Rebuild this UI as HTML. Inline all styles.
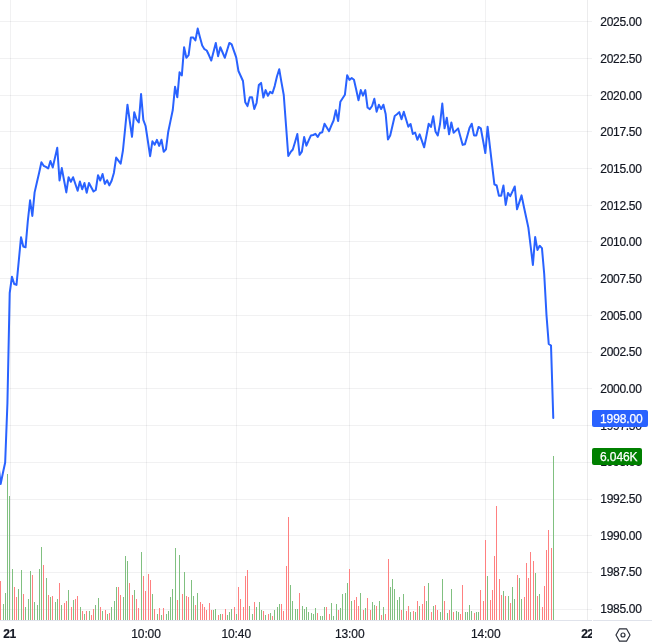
<!DOCTYPE html>
<html><head><meta charset="utf-8"><title>Chart</title>
<style>
html,body{margin:0;padding:0;background:#fff;}
body{width:652px;height:643px;position:relative;overflow:hidden;font-family:"Liberation Sans",sans-serif;color:#131722;-webkit-text-stroke:0.2px #131722;}
svg{position:absolute;left:0;top:0;}
.layer{position:absolute;left:0;top:0;width:652px;height:643px;will-change:transform;transform:translateZ(0);}
.pl{position:absolute;left:600.3px;height:15px;line-height:15px;font-size:12px;letter-spacing:-0.3px;white-space:nowrap;}
.taxis{position:absolute;left:0;top:621px;width:592px;height:22px;overflow:hidden;}
.tl{position:absolute;top:6px;width:60px;text-align:center;height:15px;line-height:15px;font-size:12px;letter-spacing:-0.1px;white-space:nowrap;}
.tl.b{font-weight:bold;letter-spacing:-0.6px;}
.box{position:absolute;left:592px;height:17px;border-radius:2px;color:#fff;font-size:12px;line-height:19px;letter-spacing:-0.1px;box-sizing:border-box;padding-left:8px;-webkit-text-stroke:0.25px #fff;white-space:nowrap;}
</style></head><body>
<svg width="652" height="643" viewBox="0 0 652 643">
<g shape-rendering="crispEdges">
<rect x="0" y="21" width="592" height="1" fill="rgba(42,46,57,0.065)"/><rect x="0" y="58" width="592" height="1" fill="rgba(42,46,57,0.065)"/><rect x="0" y="95" width="592" height="1" fill="rgba(42,46,57,0.065)"/><rect x="0" y="131" width="592" height="1" fill="rgba(42,46,57,0.065)"/><rect x="0" y="168" width="592" height="1" fill="rgba(42,46,57,0.065)"/><rect x="0" y="205" width="592" height="1" fill="rgba(42,46,57,0.065)"/><rect x="0" y="241" width="592" height="1" fill="rgba(42,46,57,0.065)"/><rect x="0" y="278" width="592" height="1" fill="rgba(42,46,57,0.065)"/><rect x="0" y="315" width="592" height="1" fill="rgba(42,46,57,0.065)"/><rect x="0" y="352" width="592" height="1" fill="rgba(42,46,57,0.065)"/><rect x="0" y="388" width="592" height="1" fill="rgba(42,46,57,0.065)"/><rect x="0" y="425" width="592" height="1" fill="rgba(42,46,57,0.065)"/><rect x="0" y="462" width="592" height="1" fill="rgba(42,46,57,0.065)"/><rect x="0" y="499" width="592" height="1" fill="rgba(42,46,57,0.065)"/><rect x="0" y="535" width="592" height="1" fill="rgba(42,46,57,0.065)"/><rect x="0" y="572" width="592" height="1" fill="rgba(42,46,57,0.065)"/><rect x="0" y="609" width="592" height="1" fill="rgba(42,46,57,0.065)"/>
<rect x="10" y="0" width="1" height="620" fill="rgba(42,46,57,0.065)"/><rect x="146" y="0" width="1" height="620" fill="rgba(42,46,57,0.065)"/><rect x="236" y="0" width="1" height="620" fill="rgba(42,46,57,0.065)"/><rect x="349" y="0" width="1" height="620" fill="rgba(42,46,57,0.065)"/><rect x="485" y="0" width="1" height="620" fill="rgba(42,46,57,0.065)"/>
<rect x="0" y="581" width="1" height="39" fill="#FF8080"/><rect x="3" y="604" width="1" height="16" fill="#80C080"/><rect x="5" y="593" width="1" height="27" fill="#80C080"/><rect x="7" y="474" width="1" height="146" fill="#80C080"/><rect x="9" y="496" width="1" height="124" fill="#80C080"/><rect x="12" y="569" width="1" height="51" fill="#80C080"/><rect x="14" y="587" width="1" height="33" fill="#FF8080"/><rect x="16" y="597" width="1" height="23" fill="#FF8080"/><rect x="18" y="589" width="1" height="31" fill="#80C080"/><rect x="21" y="570" width="1" height="50" fill="#80C080"/><rect x="23" y="594" width="1" height="26" fill="#FF8080"/><rect x="25" y="607" width="1" height="13" fill="#80C080"/><rect x="28" y="599" width="1" height="21" fill="#80C080"/><rect x="30" y="571" width="1" height="49" fill="#80C080"/><rect x="32" y="575" width="1" height="45" fill="#FF8080"/><rect x="34" y="602" width="1" height="18" fill="#80C080"/><rect x="37" y="605" width="1" height="15" fill="#80C080"/><rect x="39" y="569" width="1" height="51" fill="#80C080"/><rect x="41" y="547" width="1" height="73" fill="#80C080"/><rect x="43" y="565" width="1" height="55" fill="#FF8080"/><rect x="46" y="578" width="1" height="42" fill="#80C080"/><rect x="48" y="595" width="1" height="25" fill="#FF8080"/><rect x="50" y="597" width="1" height="23" fill="#80C080"/><rect x="52" y="596" width="1" height="24" fill="#FF8080"/><rect x="55" y="602" width="1" height="18" fill="#80C080"/><rect x="57" y="599" width="1" height="21" fill="#80C080"/><rect x="59" y="583" width="1" height="37" fill="#FF8080"/><rect x="61" y="605" width="1" height="15" fill="#80C080"/><rect x="64" y="603" width="1" height="17" fill="#FF8080"/><rect x="66" y="601" width="1" height="19" fill="#FF8080"/><rect x="68" y="590" width="1" height="30" fill="#80C080"/><rect x="71" y="607" width="1" height="13" fill="#FF8080"/><rect x="73" y="600" width="1" height="20" fill="#80C080"/><rect x="75" y="599" width="1" height="21" fill="#FF8080"/><rect x="77" y="596" width="1" height="24" fill="#FF8080"/><rect x="80" y="607" width="1" height="13" fill="#80C080"/><rect x="82" y="611" width="1" height="9" fill="#FF8080"/><rect x="84" y="614" width="1" height="6" fill="#80C080"/><rect x="86" y="611" width="1" height="9" fill="#FF8080"/><rect x="89" y="611" width="1" height="9" fill="#80C080"/><rect x="91" y="615" width="1" height="5" fill="#FF8080"/><rect x="93" y="609" width="1" height="11" fill="#FF8080"/><rect x="95" y="605" width="1" height="15" fill="#80C080"/><rect x="98" y="598" width="1" height="22" fill="#80C080"/><rect x="100" y="607" width="1" height="13" fill="#FF8080"/><rect x="102" y="611" width="1" height="9" fill="#80C080"/><rect x="105" y="610" width="1" height="10" fill="#FF8080"/><rect x="107" y="614" width="1" height="6" fill="#80C080"/><rect x="109" y="613" width="1" height="7" fill="#FF8080"/><rect x="111" y="607" width="1" height="13" fill="#80C080"/><rect x="114" y="601" width="1" height="19" fill="#80C080"/><rect x="116" y="587" width="1" height="33" fill="#80C080"/><rect x="118" y="587" width="1" height="33" fill="#FF8080"/><rect x="120" y="595" width="1" height="25" fill="#FF8080"/><rect x="123" y="597" width="1" height="23" fill="#80C080"/><rect x="125" y="556" width="1" height="64" fill="#80C080"/><rect x="127" y="561" width="1" height="59" fill="#80C080"/><rect x="129" y="583" width="1" height="37" fill="#FF8080"/><rect x="132" y="595" width="1" height="25" fill="#FF8080"/><rect x="134" y="590" width="1" height="30" fill="#80C080"/><rect x="136" y="599" width="1" height="21" fill="#FF8080"/><rect x="138" y="608" width="1" height="12" fill="#FF8080"/><rect x="141" y="552" width="1" height="68" fill="#80C080"/><rect x="143" y="576" width="1" height="44" fill="#FF8080"/><rect x="145" y="591" width="1" height="29" fill="#FF8080"/><rect x="148" y="574" width="1" height="46" fill="#FF8080"/><rect x="150" y="580" width="1" height="40" fill="#FF8080"/><rect x="152" y="594" width="1" height="26" fill="#80C080"/><rect x="154" y="609" width="1" height="11" fill="#FF8080"/><rect x="157" y="614" width="1" height="6" fill="#80C080"/><rect x="159" y="608" width="1" height="12" fill="#FF8080"/><rect x="161" y="615" width="1" height="5" fill="#80C080"/><rect x="163" y="608" width="1" height="12" fill="#FF8080"/><rect x="166" y="614" width="1" height="6" fill="#80C080"/><rect x="168" y="611" width="1" height="9" fill="#80C080"/><rect x="170" y="597" width="1" height="23" fill="#80C080"/><rect x="172" y="589" width="1" height="31" fill="#80C080"/><rect x="175" y="548" width="1" height="72" fill="#80C080"/><rect x="177" y="600" width="1" height="20" fill="#FF8080"/><rect x="179" y="555" width="1" height="65" fill="#80C080"/><rect x="182" y="594" width="1" height="26" fill="#FF8080"/><rect x="184" y="572" width="1" height="48" fill="#80C080"/><rect x="186" y="596" width="1" height="24" fill="#FF8080"/><rect x="188" y="597" width="1" height="23" fill="#FF8080"/><rect x="191" y="580" width="1" height="40" fill="#80C080"/><rect x="193" y="596" width="1" height="24" fill="#80C080"/><rect x="195" y="605" width="1" height="15" fill="#FF8080"/><rect x="197" y="593" width="1" height="27" fill="#80C080"/><rect x="200" y="602" width="1" height="18" fill="#FF8080"/><rect x="202" y="604" width="1" height="16" fill="#FF8080"/><rect x="204" y="607" width="1" height="13" fill="#FF8080"/><rect x="206" y="610" width="1" height="10" fill="#FF8080"/><rect x="209" y="603" width="1" height="17" fill="#FF8080"/><rect x="211" y="610" width="1" height="10" fill="#FF8080"/><rect x="213" y="610" width="1" height="10" fill="#80C080"/><rect x="215" y="609" width="1" height="11" fill="#80C080"/><rect x="218" y="615" width="1" height="5" fill="#FF8080"/><rect x="220" y="614" width="1" height="6" fill="#80C080"/><rect x="222" y="614" width="1" height="6" fill="#FF8080"/><rect x="225" y="609" width="1" height="11" fill="#FF8080"/><rect x="227" y="615" width="1" height="5" fill="#80C080"/><rect x="229" y="612" width="1" height="8" fill="#80C080"/><rect x="231" y="609" width="1" height="11" fill="#80C080"/><rect x="234" y="607" width="1" height="13" fill="#FF8080"/><rect x="236" y="614" width="1" height="6" fill="#80C080"/><rect x="238" y="587" width="1" height="33" fill="#FF8080"/><rect x="240" y="599" width="1" height="21" fill="#FF8080"/><rect x="243" y="607" width="1" height="13" fill="#FF8080"/><rect x="245" y="576" width="1" height="44" fill="#FF8080"/><rect x="247" y="570" width="1" height="50" fill="#FF8080"/><rect x="249" y="606" width="1" height="14" fill="#80C080"/><rect x="252" y="614" width="1" height="6" fill="#80C080"/><rect x="254" y="602" width="1" height="18" fill="#FF8080"/><rect x="256" y="607" width="1" height="13" fill="#80C080"/><rect x="259" y="602" width="1" height="18" fill="#80C080"/><rect x="261" y="610" width="1" height="10" fill="#80C080"/><rect x="263" y="611" width="1" height="9" fill="#FF8080"/><rect x="265" y="615" width="1" height="5" fill="#80C080"/><rect x="268" y="614" width="1" height="6" fill="#FF8080"/><rect x="270" y="613" width="1" height="7" fill="#80C080"/><rect x="272" y="616" width="1" height="4" fill="#FF8080"/><rect x="274" y="610" width="1" height="10" fill="#80C080"/><rect x="277" y="607" width="1" height="13" fill="#80C080"/><rect x="279" y="604" width="1" height="16" fill="#80C080"/><rect x="281" y="604" width="1" height="16" fill="#FF8080"/><rect x="283" y="611" width="1" height="9" fill="#FF8080"/><rect x="286" y="566" width="1" height="54" fill="#FF8080"/><rect x="288" y="517" width="1" height="103" fill="#FF8080"/><rect x="290" y="585" width="1" height="35" fill="#80C080"/><rect x="292" y="601" width="1" height="19" fill="#80C080"/><rect x="295" y="609" width="1" height="11" fill="#80C080"/><rect x="297" y="609" width="1" height="11" fill="#80C080"/><rect x="299" y="593" width="1" height="27" fill="#FF8080"/><rect x="302" y="606" width="1" height="14" fill="#80C080"/><rect x="304" y="609" width="1" height="11" fill="#80C080"/><rect x="306" y="607" width="1" height="13" fill="#80C080"/><rect x="308" y="612" width="1" height="8" fill="#80C080"/><rect x="311" y="613" width="1" height="7" fill="#80C080"/><rect x="313" y="614" width="1" height="6" fill="#80C080"/><rect x="315" y="608" width="1" height="12" fill="#80C080"/><rect x="317" y="613" width="1" height="7" fill="#FF8080"/><rect x="320" y="616" width="1" height="4" fill="#80C080"/><rect x="322" y="616" width="1" height="4" fill="#80C080"/><rect x="324" y="607" width="1" height="13" fill="#80C080"/><rect x="326" y="607" width="1" height="13" fill="#FF8080"/><rect x="329" y="614" width="1" height="6" fill="#FF8080"/><rect x="331" y="603" width="1" height="17" fill="#80C080"/><rect x="333" y="616" width="1" height="4" fill="#80C080"/><rect x="336" y="604" width="1" height="16" fill="#80C080"/><rect x="338" y="610" width="1" height="10" fill="#FF8080"/><rect x="340" y="608" width="1" height="12" fill="#80C080"/><rect x="342" y="594" width="1" height="26" fill="#80C080"/><rect x="345" y="593" width="1" height="27" fill="#80C080"/><rect x="347" y="583" width="1" height="37" fill="#80C080"/><rect x="349" y="569" width="1" height="51" fill="#FF8080"/><rect x="351" y="601" width="1" height="19" fill="#80C080"/><rect x="354" y="600" width="1" height="20" fill="#FF8080"/><rect x="356" y="597" width="1" height="23" fill="#FF8080"/><rect x="358" y="606" width="1" height="14" fill="#FF8080"/><rect x="360" y="593" width="1" height="27" fill="#80C080"/><rect x="363" y="610" width="1" height="10" fill="#FF8080"/><rect x="365" y="608" width="1" height="12" fill="#80C080"/><rect x="367" y="598" width="1" height="22" fill="#FF8080"/><rect x="370" y="610" width="1" height="10" fill="#FF8080"/><rect x="372" y="602" width="1" height="18" fill="#80C080"/><rect x="374" y="605" width="1" height="15" fill="#80C080"/><rect x="376" y="606" width="1" height="14" fill="#FF8080"/><rect x="379" y="601" width="1" height="19" fill="#80C080"/><rect x="381" y="615" width="1" height="5" fill="#FF8080"/><rect x="383" y="607" width="1" height="13" fill="#80C080"/><rect x="385" y="614" width="1" height="6" fill="#FF8080"/><rect x="388" y="559" width="1" height="61" fill="#FF8080"/><rect x="390" y="587" width="1" height="33" fill="#80C080"/><rect x="392" y="579" width="1" height="41" fill="#80C080"/><rect x="394" y="589" width="1" height="31" fill="#80C080"/><rect x="397" y="600" width="1" height="20" fill="#80C080"/><rect x="399" y="597" width="1" height="23" fill="#80C080"/><rect x="401" y="610" width="1" height="10" fill="#FF8080"/><rect x="403" y="594" width="1" height="26" fill="#80C080"/><rect x="406" y="611" width="1" height="9" fill="#FF8080"/><rect x="408" y="606" width="1" height="14" fill="#FF8080"/><rect x="410" y="612" width="1" height="8" fill="#80C080"/><rect x="413" y="611" width="1" height="9" fill="#FF8080"/><rect x="415" y="612" width="1" height="8" fill="#80C080"/><rect x="417" y="601" width="1" height="19" fill="#FF8080"/><rect x="419" y="606" width="1" height="14" fill="#80C080"/><rect x="422" y="604" width="1" height="16" fill="#FF8080"/><rect x="424" y="586" width="1" height="34" fill="#FF8080"/><rect x="426" y="601" width="1" height="19" fill="#80C080"/><rect x="428" y="583" width="1" height="37" fill="#80C080"/><rect x="431" y="612" width="1" height="8" fill="#FF8080"/><rect x="433" y="606" width="1" height="14" fill="#80C080"/><rect x="435" y="605" width="1" height="15" fill="#FF8080"/><rect x="437" y="610" width="1" height="10" fill="#FF8080"/><rect x="440" y="612" width="1" height="8" fill="#80C080"/><rect x="442" y="579" width="1" height="41" fill="#80C080"/><rect x="444" y="601" width="1" height="19" fill="#FF8080"/><rect x="447" y="613" width="1" height="7" fill="#80C080"/><rect x="449" y="610" width="1" height="10" fill="#FF8080"/><rect x="451" y="589" width="1" height="31" fill="#80C080"/><rect x="453" y="612" width="1" height="8" fill="#FF8080"/><rect x="456" y="611" width="1" height="9" fill="#80C080"/><rect x="458" y="612" width="1" height="8" fill="#80C080"/><rect x="460" y="614" width="1" height="6" fill="#FF8080"/><rect x="462" y="585" width="1" height="35" fill="#FF8080"/><rect x="465" y="612" width="1" height="8" fill="#80C080"/><rect x="467" y="612" width="1" height="8" fill="#80C080"/><rect x="469" y="605" width="1" height="15" fill="#80C080"/><rect x="471" y="611" width="1" height="9" fill="#80C080"/><rect x="474" y="613" width="1" height="7" fill="#FF8080"/><rect x="476" y="612" width="1" height="8" fill="#80C080"/><rect x="478" y="612" width="1" height="8" fill="#80C080"/><rect x="480" y="590" width="1" height="30" fill="#FF8080"/><rect x="483" y="601" width="1" height="19" fill="#FF8080"/><rect x="485" y="540" width="1" height="80" fill="#FF8080"/><rect x="487" y="576" width="1" height="44" fill="#80C080"/><rect x="490" y="600" width="1" height="20" fill="#FF8080"/><rect x="492" y="590" width="1" height="30" fill="#FF8080"/><rect x="494" y="556" width="1" height="64" fill="#FF8080"/><rect x="496" y="506" width="1" height="114" fill="#FF8080"/><rect x="499" y="579" width="1" height="41" fill="#FF8080"/><rect x="501" y="595" width="1" height="25" fill="#FF8080"/><rect x="503" y="591" width="1" height="29" fill="#80C080"/><rect x="505" y="596" width="1" height="24" fill="#FF8080"/><rect x="508" y="596" width="1" height="24" fill="#80C080"/><rect x="510" y="603" width="1" height="17" fill="#FF8080"/><rect x="512" y="587" width="1" height="33" fill="#80C080"/><rect x="514" y="599" width="1" height="21" fill="#80C080"/><rect x="517" y="575" width="1" height="45" fill="#FF8080"/><rect x="519" y="578" width="1" height="42" fill="#80C080"/><rect x="521" y="599" width="1" height="21" fill="#80C080"/><rect x="524" y="597" width="1" height="23" fill="#FF8080"/><rect x="526" y="563" width="1" height="57" fill="#FF8080"/><rect x="528" y="578" width="1" height="42" fill="#FF8080"/><rect x="530" y="552" width="1" height="68" fill="#FF8080"/><rect x="533" y="561" width="1" height="59" fill="#FF8080"/><rect x="535" y="573" width="1" height="47" fill="#80C080"/><rect x="537" y="596" width="1" height="24" fill="#FF8080"/><rect x="539" y="594" width="1" height="26" fill="#80C080"/><rect x="542" y="607" width="1" height="13" fill="#FF8080"/><rect x="544" y="586" width="1" height="34" fill="#FF8080"/><rect x="546" y="550" width="1" height="70" fill="#FF8080"/><rect x="548" y="530" width="1" height="90" fill="#FF8080"/><rect x="551" y="548" width="1" height="72" fill="#FF8080"/><rect x="553" y="456" width="1" height="164" fill="#80C080"/>
<rect x="587" y="0" width="1" height="620" fill="rgba(42,46,57,0.09)"/>
<rect x="0" y="620" width="592" height="1" fill="#E0E3EB"/>
<rect x="593" y="620" width="59" height="1" fill="#E0E3EB"/>
</g>
<polyline points="-1.96,462.0 0.64,484.0 2.90,473.0 5.17,462.5 7.43,403.0 9.70,293.0 11.96,276.7 14.23,284.0 16.49,284.9 18.76,261.0 21.02,237.2 23.29,246.5 25.55,247.3 27.82,221.0 30.08,200.3 32.34,215.9 34.61,192.4 36.87,182.5 39.14,172.7 41.40,162.3 43.67,165.8 45.93,166.9 48.20,168.5 50.46,161.0 52.73,167.5 54.99,157.6 57.26,147.7 59.52,180.5 61.79,168.1 64.05,180.2 66.32,192.4 68.58,177.2 70.85,181.8 73.11,177.2 75.38,184.0 77.64,190.7 79.91,181.5 82.17,189.3 84.44,183.0 86.70,192.7 88.97,183.0 91.23,187.3 93.50,191.5 95.76,190.0 98.03,175.2 100.29,180.5 102.56,174.0 104.82,183.9 107.09,180.2 109.35,185.4 111.62,180.7 113.88,173.0 116.15,157.6 118.41,160.7 120.68,163.7 122.94,150.5 125.21,127.8 127.47,104.7 129.74,120.8 132.00,136.8 134.27,112.2 136.53,119.5 138.80,122.5 141.06,94.1 143.33,119.8 145.59,126.0 147.86,141.0 150.12,156.2 152.39,141.3 154.65,144.7 156.91,139.9 159.18,145.9 161.44,139.8 163.71,151.8 165.97,149.4 168.24,131.7 170.50,120.9 172.77,110.0 175.03,86.8 177.30,97.3 179.56,72.2 181.83,75.5 184.09,47.2 186.36,57.8 188.62,55.2 190.89,37.4 193.15,37.4 195.42,40.4 197.68,28.6 199.95,37.3 202.21,45.5 204.48,49.2 206.74,50.5 209.01,55.3 211.27,60.5 213.54,51.7 215.80,42.9 218.07,56.2 220.33,47.2 222.60,52.5 224.86,57.8 227.13,50.3 229.39,42.9 231.66,44.4 233.92,50.9 236.19,57.3 238.45,71.0 240.72,76.0 242.98,81.0 245.25,102.3 247.51,106.1 249.78,97.2 252.04,97.2 254.31,109.0 256.57,103.0 258.84,85.0 261.10,82.9 263.37,97.5 265.63,90.1 267.90,95.8 270.16,91.8 272.43,93.3 274.69,86.1 276.95,76.5 279.22,69.2 281.48,82.4 283.75,95.0 286.01,125.3 288.28,156.0 290.54,152.2 292.81,149.5 295.07,142.0 297.34,134.0 299.60,154.8 301.87,151.6 304.13,137.1 306.40,145.7 308.66,140.3 310.93,135.4 313.19,135.0 315.46,133.8 317.72,137.0 319.99,133.0 322.25,132.3 324.52,123.8 326.78,127.5 329.05,131.2 331.31,125.6 333.58,120.5 335.84,110.3 338.11,121.1 340.37,101.7 342.64,98.3 344.90,94.8 347.17,75.2 349.43,79.9 351.70,78.0 353.96,79.7 356.23,89.8 358.49,100.3 360.76,90.1 363.02,95.6 365.29,90.1 367.55,107.5 369.82,109.2 372.08,106.0 374.35,98.8 376.61,111.7 378.88,104.7 381.14,109.0 383.41,104.7 385.67,114.0 387.94,139.5 390.20,135.5 392.47,125.8 394.73,116.0 396.99,114.3 399.26,112.1 401.52,119.2 403.79,111.7 406.05,119.2 408.32,126.7 410.58,124.0 412.85,134.0 415.11,132.5 417.38,139.8 419.64,134.3 421.91,140.8 424.17,147.3 426.44,135.6 428.70,123.8 430.97,127.0 433.23,116.3 435.50,131.6 437.76,135.5 440.03,124.0 442.29,103.5 444.56,128.3 446.82,117.8 449.09,134.3 451.35,122.4 453.62,132.8 455.88,130.6 458.15,128.4 460.41,136.7 462.68,144.9 464.94,144.3 467.21,136.2 469.47,128.0 471.74,123.7 474.00,135.4 476.27,135.4 478.53,126.9 480.80,128.3 483.06,140.5 485.33,153.1 487.59,126.7 489.86,146.2 492.12,165.3 494.39,184.3 496.65,185.5 498.92,195.7 501.18,195.7 503.45,185.5 505.71,204.9 507.98,192.9 510.24,196.2 512.51,191.3 514.77,186.5 517.04,209.3 519.30,202.4 521.56,195.4 523.83,206.5 526.09,217.0 528.36,227.6 530.62,246.0 532.89,264.9 535.15,237.0 537.42,249.9 539.68,245.8 541.95,248.1 544.21,274.0 546.48,315.0 548.74,344.0 551.01,345.5 553.27,417.9" fill="none" stroke="#2962FF" stroke-width="2" stroke-linejoin="round" stroke-linecap="round"/>
<g fill="none" stroke="#2A2E39" stroke-width="1.2" stroke-linejoin="round">
<path d="M616 635 L619.5 628.8 L626.5 628.8 L630 635 L626.5 641.2 L619.5 641.2 Z"/>
<circle cx="623" cy="635" r="2"/>
</g>
</svg>
<div class="layer"><div class="pl" style="top:15px">2025.00</div><div class="pl" style="top:52px">2022.50</div><div class="pl" style="top:89px">2020.00</div><div class="pl" style="top:125px">2017.50</div><div class="pl" style="top:162px">2015.00</div><div class="pl" style="top:199px">2012.50</div><div class="pl" style="top:235px">2010.00</div><div class="pl" style="top:272px">2007.50</div><div class="pl" style="top:309px">2005.00</div><div class="pl" style="top:345px">2002.50</div><div class="pl" style="top:382px">2000.00</div><div class="pl" style="top:419px">1997.50</div><div class="pl" style="top:455px">1995.00</div><div class="pl" style="top:492px">1992.50</div><div class="pl" style="top:529px">1990.00</div><div class="pl" style="top:565px">1987.50</div><div class="pl" style="top:602px">1985.00</div>
<div class="box" style="top:410px;width:56px;background:#2962FF;">1998.00</div>
<div class="box" style="top:448px;width:50px;background:#008000;">6.046K</div>
<div class="taxis"><div class="tl b" style="left:-20.6px">21</div><div class="tl" style="left:116.0px">10:00</div><div class="tl" style="left:206.2px">10:40</div><div class="tl" style="left:319.7px">13:00</div><div class="tl" style="left:455.7px">14:00</div><div class="tl b" style="left:557.3px">22</div></div></div>
</body></html>
